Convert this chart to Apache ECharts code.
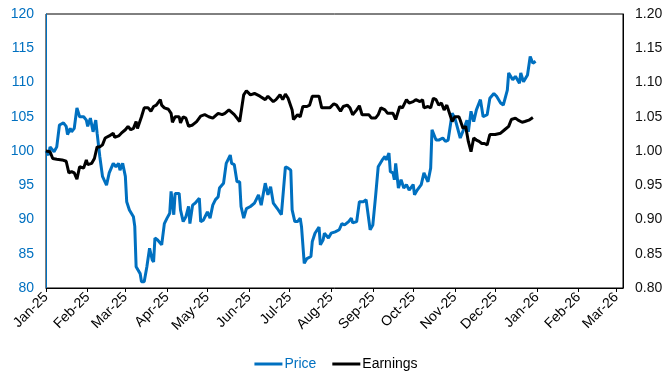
<!DOCTYPE html>
<html><head><meta charset="utf-8">
<script src="https://cdn.jsdelivr.net/npm/echarts@6/dist/echarts.min.js"></script>
<style>html,body{margin:0;padding:0;background:#fff}#c{width:672px;height:384px}</style>
</head><body><div id="c"></div>
<script>
var monthNames = ['Jan','Feb','Mar','Apr','May','Jun','Jul','Aug','Sep','Oct','Nov','Dec'];
var leftTicks = [80,85,90,95,100,105,110,115,120];
var rightTicks = ['0.80','0.85','0.90','0.95','1.00','1.05','1.10','1.15','1.20'];

var priceDates = ['2025-01-01','2025-01-03','2025-01-04','2025-01-07','2025-01-09','2025-01-11','2025-01-14','2025-01-16','2025-01-17','2025-01-19','2025-01-20','2025-01-22','2025-01-24','2025-01-26','2025-01-29','2025-01-31','2025-02-01','2025-02-03','2025-02-05','2025-02-07','2025-02-08','2025-02-10','2025-02-12','2025-02-15','2025-02-17','2025-02-20','2025-02-22','2025-02-24','2025-02-25','2025-02-27','2025-03-01','2025-03-02','2025-03-04','2025-03-07','2025-03-08','2025-03-09','2025-03-12','2025-03-13','2025-03-15','2025-03-17','2025-03-19','2025-03-21','2025-03-22','2025-03-23','2025-03-25','2025-03-28','2025-03-30','2025-04-01','2025-04-03','2025-04-04','2025-04-06','2025-04-07','2025-04-10','2025-04-11','2025-04-13','2025-04-15','2025-04-17','2025-04-18','2025-04-20','2025-04-22','2025-04-25','2025-04-26','2025-04-28','2025-05-01','2025-05-03','2025-05-05','2025-05-07','2025-05-09','2025-05-10','2025-05-13','2025-05-15','2025-05-18','2025-05-19','2025-05-21','2025-05-23','2025-05-25','2025-05-26','2025-05-28','2025-05-30','2025-06-02','2025-06-05','2025-06-08','2025-06-10','2025-06-13','2025-06-15','2025-06-17','2025-06-19','2025-06-22','2025-06-25','2025-06-28','2025-06-30','2025-07-02','2025-07-03','2025-07-05','2025-07-07','2025-07-09','2025-07-10','2025-07-12','2025-07-14','2025-07-17','2025-07-18','2025-07-20','2025-07-23','2025-07-24','2025-07-26','2025-07-27','2025-07-30','2025-08-01','2025-08-04','2025-08-07','2025-08-09','2025-08-11','2025-08-14','2025-08-16','2025-08-17','2025-08-20','2025-08-22','2025-08-25','2025-08-27','2025-08-30','2025-09-01','2025-09-03','2025-09-05','2025-09-08','2025-09-10','2025-09-11','2025-09-13','2025-09-14','2025-09-16','2025-09-17','2025-09-18','2025-09-20','2025-09-22','2025-09-24','2025-09-26','2025-09-28','2025-10-01','2025-10-02','2025-10-04','2025-10-07','2025-10-09','2025-10-12','2025-10-14','2025-10-15','2025-10-18','2025-10-20','2025-10-23','2025-10-25','2025-10-27','2025-10-30','2025-11-01','2025-11-05','2025-11-07','2025-11-10','2025-11-11','2025-11-13','2025-11-15','2025-11-17','2025-11-20','2025-11-22','2025-11-25','2025-11-27','2025-11-30','2025-12-02','2025-12-05','2025-12-07','2025-12-10','2025-12-11','2025-12-14','2025-12-16','2025-12-19','2025-12-20','2025-12-22','2025-12-25','2025-12-27','2025-12-29','2025-12-31'];
var priceValues = [100.0,99.4,100.6,99.9,100.6,103.8,104.1,103.6,102.4,103.3,102.8,103.3,106.3,105.0,105.0,104.5,103.6,104.8,102.8,104.5,102.6,99.2,96.3,95.0,96.8,98.2,97.7,98.2,97.2,98.2,96.3,92.6,91.4,90.4,89.0,83.1,82.1,80.9,80.9,83.1,85.8,84.1,83.8,87.3,87.0,86.3,89.4,90.2,90.9,94.1,90.7,93.8,93.8,91.4,89.7,90.4,91.9,89.4,92.1,92.4,93.1,89.7,89.9,91.1,90.2,92.1,92.9,93.3,94.6,95.3,98.2,99.4,98.2,98.0,95.5,95.5,91.9,90.2,91.6,91.9,92.4,93.6,92.1,95.3,93.6,94.8,92.4,91.6,90.7,97.7,97.5,97.2,91.4,89.7,89.7,90.2,88.9,83.6,84.3,84.6,86.8,88.0,88.9,86.3,87.0,88.0,87.3,88.0,88.2,88.5,89.4,89.2,89.7,90.2,89.5,89.7,92.6,92.6,92.9,88.5,89.2,93.3,97.7,98.7,99.2,98.7,99.7,97.0,96.8,95.8,98.2,94.6,95.8,94.6,95.1,94.3,95.1,93.6,94.3,95.1,96.8,95.5,97.5,103.1,101.6,101.6,101.9,101.4,101.6,105.5,104.8,101.9,102.9,104.5,102.8,105.8,104.3,106.0,107.5,105.0,105.3,107.7,108.4,108.0,107.0,106.7,108.9,111.4,110.4,110.9,109.9,111.4,110.1,111.1,113.8,112.8,113.1];
var earnDates = ['2025-01-01','2025-01-04','2025-01-06','2025-01-09','2025-01-13','2025-01-16','2025-01-18','2025-01-20','2025-01-22','2025-01-24','2025-01-26','2025-01-29','2025-01-31','2025-02-01','2025-02-04','2025-02-06','2025-02-08','2025-02-10','2025-02-12','2025-02-14','2025-02-17','2025-02-20','2025-02-21','2025-02-24','2025-02-26','2025-03-01','2025-03-03','2025-03-05','2025-03-07','2025-03-09','2025-03-10','2025-03-13','2025-03-15','2025-03-18','2025-03-20','2025-03-22','2025-03-24','2025-03-27','2025-03-28','2025-03-30','2025-04-02','2025-04-04','2025-04-05','2025-04-07','2025-04-10','2025-04-11','2025-04-13','2025-04-15','2025-04-17','2025-04-20','2025-04-23','2025-04-26','2025-04-29','2025-05-02','2025-05-05','2025-05-09','2025-05-12','2025-05-14','2025-05-17','2025-05-21','2025-05-25','2025-05-28','2025-05-30','2025-06-02','2025-06-05','2025-06-09','2025-06-13','2025-06-15','2025-06-19','2025-06-21','2025-06-24','2025-06-26','2025-06-28','2025-06-30','2025-07-03','2025-07-04','2025-07-07','2025-07-09','2025-07-11','2025-07-14','2025-07-16','2025-07-18','2025-07-21','2025-07-23','2025-07-25','2025-07-27','2025-07-31','2025-08-03','2025-08-05','2025-08-08','2025-08-10','2025-08-13','2025-08-15','2025-08-17','2025-08-20','2025-08-22','2025-08-24','2025-08-26','2025-08-29','2025-08-31','2025-09-03','2025-09-05','2025-09-07','2025-09-10','2025-09-12','2025-09-16','2025-09-18','2025-09-21','2025-09-23','2025-09-26','2025-09-28','2025-10-01','2025-10-03','2025-10-06','2025-10-08','2025-10-09','2025-10-12','2025-10-14','2025-10-16','2025-10-18','2025-10-20','2025-10-22','2025-10-24','2025-10-26','2025-10-28','2025-10-30','2025-11-01','2025-11-04','2025-11-05','2025-11-07','2025-11-09','2025-11-11','2025-11-13','2025-11-15','2025-11-17','2025-11-19','2025-11-21','2025-11-23','2025-11-25','2025-11-27','2025-11-28','2025-12-01','2025-12-05','2025-12-08','2025-12-11','2025-12-13','2025-12-16','2025-12-18','2025-12-21','2025-12-23','2025-12-26','2025-12-29'];
var earnValues = [1.000,0.999,0.989,0.988,0.987,0.985,0.968,0.970,0.968,0.959,0.977,0.975,0.987,0.980,0.982,0.989,1.006,1.006,1.009,1.019,1.022,1.026,1.020,1.022,1.026,1.031,1.036,1.031,1.033,1.043,1.033,1.050,1.063,1.063,1.058,1.065,1.067,1.075,1.067,1.063,1.061,1.055,1.042,1.050,1.050,1.041,1.050,1.048,1.036,1.038,1.043,1.051,1.053,1.050,1.048,1.055,1.053,1.055,1.060,1.053,1.043,1.082,1.088,1.082,1.084,1.080,1.075,1.080,1.072,1.075,1.082,1.075,1.083,1.077,1.060,1.046,1.053,1.050,1.065,1.065,1.067,1.080,1.080,1.080,1.063,1.063,1.063,1.069,1.067,1.058,1.065,1.067,1.063,1.053,1.060,1.066,1.053,1.053,1.053,1.048,1.048,1.053,1.063,1.060,1.055,1.055,1.046,1.065,1.063,1.075,1.070,1.072,1.075,1.072,1.075,1.063,1.065,1.063,1.077,1.075,1.067,1.070,1.060,1.067,1.055,1.043,1.050,1.050,1.045,1.033,1.036,1.014,0.999,1.019,1.016,1.014,1.011,1.011,1.009,1.024,1.022,1.024,1.026,1.031,1.036,1.046,1.048,1.045,1.042,1.043,1.045,1.049];

function pairs(d, v){ var o=[]; for(var i=0;i<d.length;i++) o.push([d[i], v[i]]); return o; }

var FONT = '"Liberation Sans", Arial, sans-serif';
var BLUE = '#0070C0';
var chart = echarts.init(document.getElementById('c'), null, {renderer:'canvas'});
chart.setOption({
  animation:false,
  textStyle:{fontFamily:FONT},
  grid:{left:46,right:49,top:14,bottom:96,show:true,borderColor:'#000',borderWidth:1,backgroundColor:'transparent'},
  legend:{bottom:8,left:'center',itemWidth:28,itemHeight:3,itemGap:16,icon:'rect',
    textStyle:{fontFamily:FONT,fontSize:14,padding:[0,0,0,-3]},
    data:[{name:'Price',textStyle:{color:BLUE}},{name:'Earnings',textStyle:{color:'#000'}}]},
  xAxis:{type:'time',min:'2025-01-01',max:'2026-03-06',
    minInterval:28*86400000,maxInterval:31*86400000,
    axisLine:{lineStyle:{color:'#000',width:1}},
    axisTick:{show:true,length:4,lineStyle:{color:'#000'}},
    splitLine:{show:false},
    axisLabel:{rotate:45,fontSize:14,color:'#000',fontFamily:FONT,margin:7,hideOverlap:false,showMaxLabel:false,
      formatter:function(val){var d=new Date(val);return monthNames[d.getMonth()]+'-'+String(d.getFullYear()).slice(2);}}},
  yAxis:[
    {type:'value',min:leftTicks[0],max:leftTicks[leftTicks.length-1],interval:5,position:'left',
     axisLine:{show:true,lineStyle:{color:BLUE,width:1}},axisTick:{show:false},splitLine:{show:false},
     axisLabel:{color:BLUE,fontSize:14,fontFamily:FONT,margin:12}},
    {type:'value',min:0.8,max:1.2,interval:0.05,position:'right',
     axisLine:{show:true,lineStyle:{color:'#000',width:1}},axisTick:{show:false},splitLine:{show:false},
     axisLabel:{color:'#111',fontSize:14,fontFamily:FONT,margin:12,
       formatter:function(v){return rightTicks[Math.round((v-0.8)/0.05)];}}}
  ],
  series:[
    {name:'Price',type:'line',yAxisIndex:0,showSymbol:false,symbol:'none',data:pairs(priceDates,priceValues),
     lineStyle:{color:BLUE,width:3},itemStyle:{color:BLUE}},
    {name:'Earnings',type:'line',yAxisIndex:1,showSymbol:false,symbol:'none',data:pairs(earnDates,earnValues),
     lineStyle:{color:'#000',width:3},itemStyle:{color:'#000'}}
  ]
});
</script></body></html>
